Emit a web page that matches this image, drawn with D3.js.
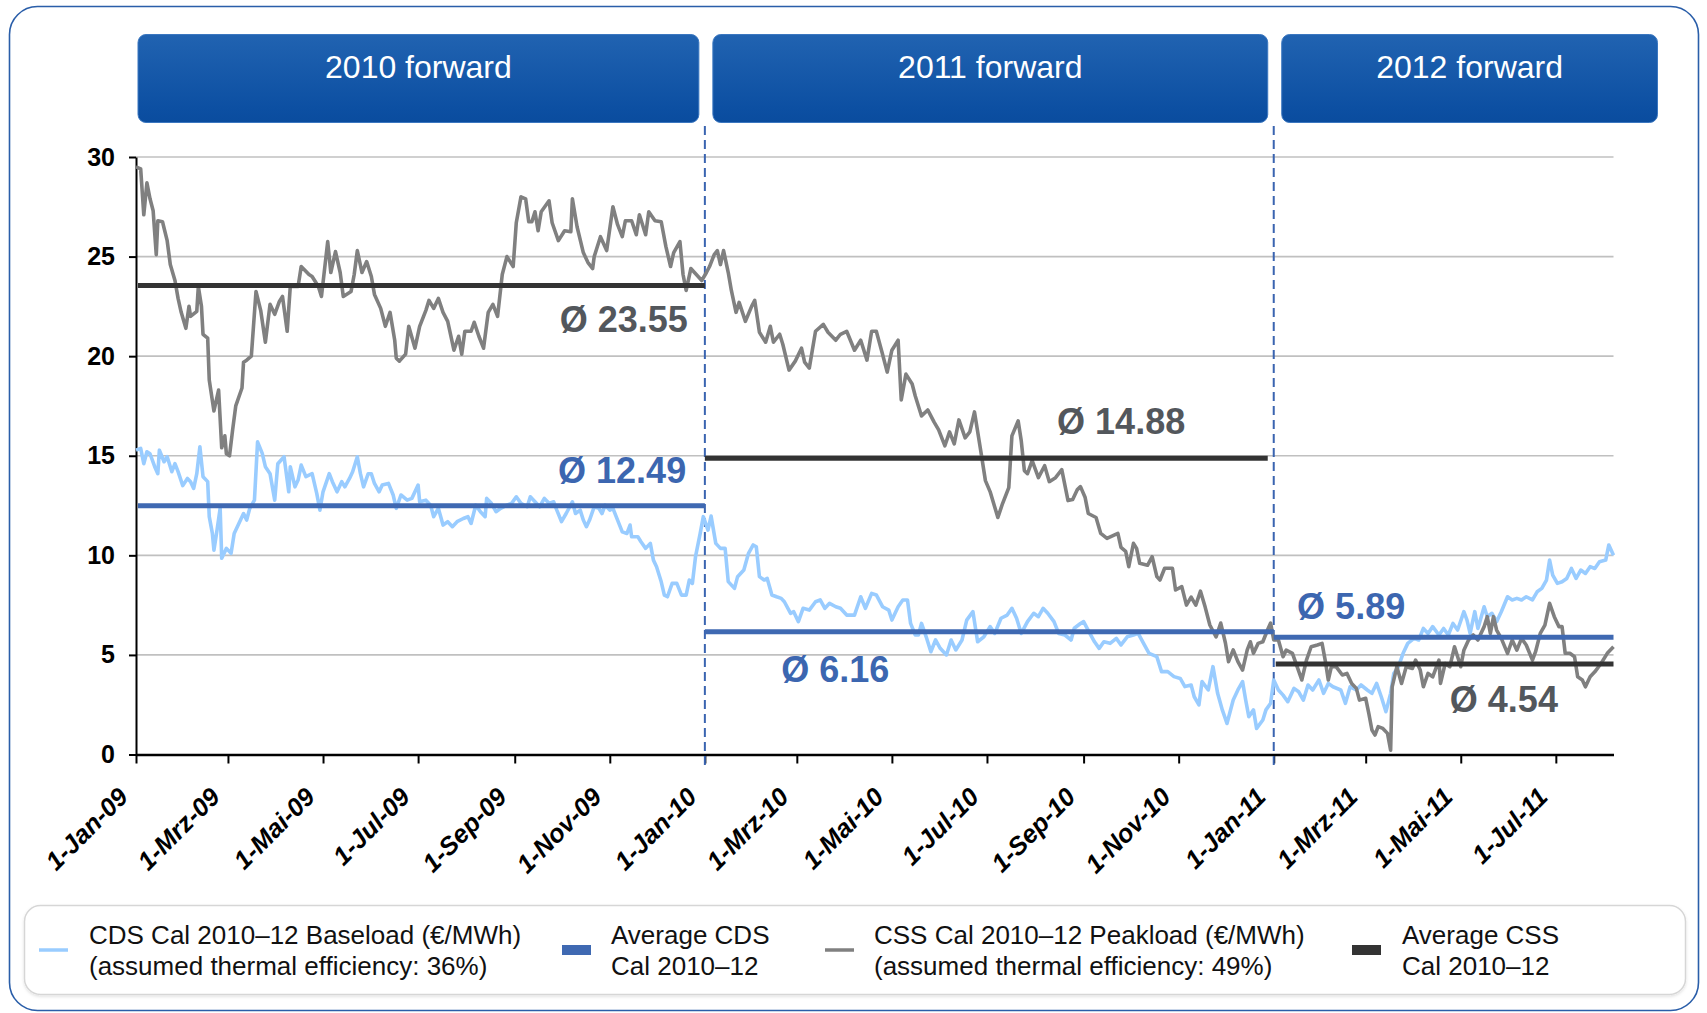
<!DOCTYPE html>
<html>
<head>
<meta charset="utf-8">
<script src="https://cdn.jsdelivr.net/npm/d3@7"></script>
<style>
  html, body { margin: 0; padding: 0; background: #fff; }
  svg { display: block; font-family: "Liberation Sans", Arial, sans-serif; }
</style>
</head>
<body>
<svg id="chart" width="1707" height="1013"></svg>
<script>
"use strict";

// ---- data (day offsets counted from 1 Jan 2009, values in EUR/MWh) ----
var START_DATE = '2009-01-01';
var END_DATE = '2011-08-07';

var segmentStarts = ['2009-01-01', '2010-01-01', '2011-01-01'];
var segmentTitles = ['2010 forward', '2011 forward', '2012 forward'];

var cdsAverages = [12.49, 6.16, 5.89];
var cssAverages = [23.55, 14.88, 4.54];

var monthNames = ['Jan', 'Feb', 'Mrz', 'Apr', 'Mai', 'Jun', 'Jul', 'Aug', 'Sep', 'Okt', 'Nov', 'Dez'];
var yTicks = [0, 5, 10, 15, 20, 25, 30];

var legendLabels = [
    ['CDS Cal 2010\u201312 Baseload (\u20ac/MWh)', '(assumed thermal efficiency: 36%)'],
    ['Average CDS', 'Cal 2010\u201312'],
    ['CSS Cal 2010\u201312 Peakload (\u20ac/MWh)', '(assumed thermal efficiency: 49%)'],
    ['Average CSS', 'Cal 2010\u201312']
];

var css2009 = [[0,29.5],[3,29.4],[5,27.1],[7,28.7],[9,27.9],[11,27.3],[13,25.1],[14,26.8],[17,26.75],[20,25.8],[22,24.6],[25,23.8],[27,22.9],[29,22.2],[32,21.4],[34,22.5],[35,22.0],[39,22.25],[40,23.5],[42,22.5],[43,21.1],[46,20.9],[47,18.8],[50,17.25],[53,18.3],[55,15.4],[57,16.0],[58,15.1],[60,15.0],[62,16.3],[64,17.5],[68,18.4],[69,19.7],[71,19.8],[74,20.0],[77,23.25],[80,22.3],[83,20.7],[86,22.6],[89,22.1],[92,22.75],[94,23.0],[97,21.25],[99,23.5],[104,23.5],[106,24.5],[111,24.1],[113,24.0],[117,23.5],[119,23.0],[123,25.75],[125,24.2],[128,25.25],[131,24.2],[133,23.0],[138,23.25],[140,24.1],[142,25.3],[145,24.2],[148,24.75],[151,24.0],[153,23.1],[157,22.4],[160,21.5],[163,22.2],[166,20.8],[167,19.9],[169,19.75],[173,20.1],[175,21.5],[179,20.4],[182,21.5],[186,22.3],[188,22.8],[191,22.4],[194,22.9],[197,22.2],[200,21.75],[204,20.3],[207,21.0],[209,20.1],[211,21.25],[215,21.25],[217,21.7],[220,21.0],[223,20.4],[226,22.2],[229,22.6],[232,22.0],[235,24.1],[238,25.0],[242,24.5],[244,26.7],[247,28.0],[250,27.9],[252,26.75],[254,26.75],[256,27.25],[258,26.3],[260,27.25],[265,27.8],[267,26.7],[271,25.8],[275,26.3],[279,26.25],[280,27.9],[283,26.5],[287,25.2],[290,24.7],[293,24.4],[294,25.0],[298,26.0],[302,25.3],[306,27.5],[309,26.6],[312,26.0],[314,26.8],[318,26.8],[321,26.1],[323,27.1],[327,26.1],[329,27.25],[333,26.8],[337,26.75],[340,25.5],[343,24.5],[345,25.2],[349,25.75],[351,24.1],[353,23.3],[356,24.4],[363,23.8]];

var css2010 = [[366,24.2],[368,24.5],[371,25.1],[373,25.3],[375,24.6],[377,25.3],[380,24.2],[382,23.3],[385,22.2],[387,22.7],[391,21.75],[395,22.5],[397,22.8],[400,21.2],[404,20.7],[407,21.5],[409,20.7],[413,21.1],[415,20.6],[419,19.3],[423,19.75],[427,20.4],[429,19.7],[432,19.4],[436,21.25],[441,21.6],[444,21.2],[449,20.8],[452,21.1],[456,21.25],[461,20.3],[465,20.8],[469,19.8],[472,21.25],[475,21.25],[479,20.1],[482,19.2],[485,20.3],[489,20.8],[491,17.8],[494,19.1],[498,18.6],[500,18.0],[504,17.0],[508,17.3],[512,16.7],[515,16.3],[519,15.5],[522,16.2],[525,15.6],[528,16.8],[532,15.9],[535,16.2],[538,17.2],[542,15.25],[545,13.75],[548,13.2],[553,11.9],[556,12.6],[560,13.4],[562,16.0],[566,16.75],[568,15.75],[570,14.25],[572,14.1],[575,14.75],[579,13.9],[583,14.5],[586,13.7],[590,13.9],[594,14.3],[598,12.75],[601,12.8],[604,13.3],[606,13.45],[609,12.9],[611,12.1],[616,11.9],[619,11.1],[623,10.85],[630,11.1],[632,10.4],[635,10.2],[637,9.43],[640,10.6],[642,10.35],[644,9.6],[649,9.5],[652,9.93],[655,8.93],[657,8.76],[660,9.35],[665,9.35],[667,8.26],[671,8.43],[674,7.5],[677,7.9],[680,7.5],[683,8.2],[686,7.4],[689,6.5],[693,5.9],[696,6.6],[699,5.6],[701,4.66],[704,5.25],[707,4.66],[710,4.24],[713,5.25],[715,5.66],[717,5.08],[720,5.58],[723,5.66],[726,6.25],[728,6.6]];

var css2011 = [[730,5.75],[733,5.75],[736,4.91],[738,5.24],[742,5.08],[745,4.41],[748,3.74],[751,4.74],[754,5.41],[758,5.5],[761,5.58],[763,4.74],[765,3.74],[767,4.41],[770,4.41],[774,3.99],[777,4.07],[780,3.57],[783,3.32],[785,2.73],[789,2.82],[791,2.06],[793,1.23],[795,0.98],[797,1.4],[800,1.31],[803,1.06],[805,0.22],[806,3.4],[809,4.41],[812,3.57],[815,4.41],[819,4.32],[821,4.74],[824,4.24],[826,3.4],[829,4.07],[832,3.9],[836,4.74],[837,3.57],[840,4.57],[843,4.41],[846,5.41],[850,4.41],[852,5.24],[855,5.75],[858,6.0],[861,5.75],[865,6.42],[867,6.92],[869,6.08],[871,6.92],[873,6.25],[876,5.83],[880,5.08],[883,5.75],[886,5.24],[889,5.83],[892,5.5],[896,4.74],[898,5.16],[901,6.08],[904,6.5],[907,7.59],[910,6.92],[913,6.42],[915,6.42],[917,5.08],[920,5.08],[923,4.91],[925,3.9],[928,3.74],[930,3.4],[933,3.9],[936,4.15],[940,4.57],[944,5.08],[948,5.41]];

var cds2009 = [[0,15.28],[3,15.37],[5,14.6],[7,15.2],[9,15.1],[12,14.45],[14,14.1],[15,15.28],[18,14.7],[20,14.95],[23,14.2],[25,14.6],[27,14.2],[30,13.5],[33,13.86],[35,13.7],[37,13.36],[39,14.1],[41,15.45],[43,13.95],[46,13.7],[47,11.94],[49,11.1],[50,10.26],[52,11.27],[54,12.36],[55,9.85],[58,10.35],[61,10.1],[63,11.1],[66,11.6],[69,12.1],[71,11.77],[73,12.36],[76,12.77],[78,15.7],[81,15.12],[83,14.45],[86,14.1],[89,12.77],[91,14.6],[95,14.95],[98,13.19],[99,14.45],[102,13.44],[104,13.78],[106,14.53],[109,13.95],[113,14.1],[116,13.1],[118,12.27],[120,13.19],[124,14.1],[126,13.7],[129,13.19],[132,13.7],[134,13.44],[137,13.86],[139,14.2],[142,14.95],[144,14.1],[146,13.44],[149,14.1],[151,14.1],[153,13.61],[156,13.19],[158,13.53],[162,13.61],[165,13.03],[167,12.36],[170,13.03],[174,12.77],[177,12.86],[181,13.53],[182,12.69],[186,12.77],[189,12.52],[191,11.94],[194,12.36],[197,11.52],[200,11.69],[203,11.44],[206,11.69],[210,11.85],[213,11.94],[215,11.6],[218,12.52],[221,12.19],[224,11.94],[225,12.86],[228,12.61],[231,12.19],[234,12.36],[238,12.52],[241,12.61],[244,12.94],[247,12.61],[251,12.44],[253,12.94],[256,12.69],[259,12.44],[262,12.86],[265,12.61],[268,12.69],[270,12.27],[273,11.69],[276,12.1],[280,12.69],[282,12.1],[285,12.27],[287,11.77],[289,11.44],[291,11.77],[294,12.44],[297,12.36],[299,12.1],[301,12.52],[304,12.27],[306,12.36],[309,11.77],[312,11.18],[315,11.1],[317,11.52],[318,10.93],[322,10.93],[324,10.68],[327,10.35],[330,10.6],[332,9.76],[334,9.43],[337,8.67],[339,8.0],[341,7.92],[344,8.59],[347,8.59],[350,8.0],[353,8.0],[355,8.76],[357,8.59],[359,9.93]];

var cds2010 = [[362,11.1],[364,11.94],[367,11.27],[369,11.97],[372,10.6],[375,10.35],[378,10.35],[380,8.68],[384,8.34],[386,8.93],[390,9.26],[393,10.1],[396,10.52],[398,10.43],[400,8.93],[403,8.76],[405,8.84],[408,8.01],[411,7.92],[414,7.84],[416,7.67],[420,7.09],[422,7.17],[425,6.67],[428,7.34],[432,7.25],[436,7.67],[439,7.76],[442,7.34],[445,7.59],[449,7.42],[452,7.34],[456,7.0],[461,7.0],[465,7.92],[468,7.34],[472,8.09],[475,8.01],[479,7.42],[483,7.25],[485,6.75],[489,7.42],[492,7.76],[495,7.76],[497,6.58],[500,6.0],[502,6.0],[504,6.58],[507,5.91],[510,5.16],[513,5.75],[516,5.33],[520,5.0],[523,5.75],[526,5.25],[530,5.75],[533,6.75],[537,7.17],[540,5.66],[544,5.91],[548,6.42],[551,6.08],[555,6.84],[559,7.0],[562,7.34],[565,6.84],[568,6.08],[572,6.67],[576,7.09],[579,6.92],[582,7.34],[585,7.09],[589,6.67],[592,6.08],[596,6.0],[600,5.75],[602,6.34],[606,6.58],[608,6.67],[612,6.08],[615,5.66],[618,5.33],[621,5.66],[625,5.58],[629,5.83],[632,5.5],[636,5.91],[640,6.0],[643,6.08],[647,5.5],[650,5.08],[655,4.91],[658,4.16],[662,4.16],[666,3.91],[670,3.82],[673,3.41],[677,3.49],[679,2.9],[682,2.49],[684,3.66],[688,3.24],[691,4.41],[694,3.07],[697,2.24],[700,1.56],[704,2.74],[707,3.24],[710,3.66],[712,2.74],[714,1.9],[717,2.24],[719,1.31],[723,1.73],[725,2.24],[728,2.57]];

var cds2011 = [[730,3.74],[733,3.24],[736,2.98],[739,2.65],[743,3.32],[746,3.15],[749,2.73],[752,3.49],[755,3.24],[759,3.74],[762,3.07],[765,3.57],[768,3.4],[773,3.24],[776,2.57],[779,3.4],[783,3.24],[786,3.49],[790,3.24],[793,3.07],[796,3.57],[799,2.9],[802,2.15],[805,3.07],[807,4.07],[810,4.41],[813,5.08],[816,5.58],[820,5.83],[823,5.75],[826,6.33],[829,6.08],[832,6.42],[836,6.0],[839,6.33],[842,6.0],[845,6.58],[848,6.25],[852,7.17],[854,6.75],[856,6.08],[859,7.17],[861,6.33],[865,7.42],[867,6.92],[870,7.09],[873,6.67],[876,7.17],[880,7.92],[883,7.76],[886,7.84],[889,7.76],[892,7.92],[896,7.76],[899,8.17],[902,8.34],[905,8.76],[907,9.76],[909,9.01],[912,8.59],[915,8.67],[918,8.84],[921,9.34],[924,8.84],[927,9.26],[930,9.09],[933,9.43],[936,9.34],[939,9.68],[943,9.76],[945,10.52],[948,10.01]];

// ---- layout / style ----
var plot = { left: 136, right: 1613.5, top: 157, bottom: 754.5 };

var COLORS = {
    cds: '#99ccff',
    css: '#808080',
    cdsAvg: '#3f69b2',
    cssAvg: '#333333',
    divider: '#3a64b0',
    grid: '#c0c0c0',
    frame: '#2a5ea9',
    cssLabel: '#53575c',
    cdsLabel: '#3c66b0'
};

var parse = d3.timeParse('%Y-%m-%d');
var start = parse(START_DATE);
var end = parse(END_DATE);
var dayToDate = function(d) { return d3.timeDay.offset(start, d); };

var x = d3.scaleTime().domain([start, end]).range([plot.left, plot.right]);
var y = d3.scaleLinear().domain([0, 30]).range([plot.bottom, plot.top]);

var segments = segmentStarts.map(function(s, i) {
    return {
        start: parse(s),
        end: i < segmentStarts.length - 1 ? parse(segmentStarts[i + 1]) : end,
        title: segmentTitles[i],
        cds: cdsAverages[i],
        css: cssAverages[i]
    };
});

var svg = d3.select('#chart');

var defs = svg.append('defs');
var grad = defs.append('linearGradient')
    .attr('id', 'headerGrad')
    .attr('x1', 0).attr('y1', 0).attr('x2', 0).attr('y2', 1);
grad.append('stop').attr('offset', '0%').attr('stop-color', '#2163b1');
grad.append('stop').attr('offset', '85%').attr('stop-color', '#0c4fa2');
grad.append('stop').attr('offset', '100%').attr('stop-color', '#0a4c9e');

var shadow = defs.append('filter').attr('id', 'legendShadow')
    .attr('x', '-2%').attr('y', '-10%').attr('width', '104%').attr('height', '130%');
shadow.append('feDropShadow')
    .attr('dx', 0).attr('dy', 1.5).attr('stdDeviation', 1.5)
    .attr('flood-color', '#000').attr('flood-opacity', 0.12);

// outer frame
svg.append('rect')
    .attr('x', 9.5).attr('y', 6.5)
    .attr('width', 1689).attr('height', 1004)
    .attr('rx', 28).attr('ry', 28)
    .attr('fill', '#fff')
    .attr('stroke', COLORS.frame)
    .attr('stroke-width', 1.6);

// header boxes
var headers = svg.append('g').attr('class', 'headers')
    .selectAll('g')
    .data(segments)
    .enter().append('g');

headers.each(function(d, i) {
    var x0 = x(d.start) + (i === 0 ? 2 : 8);
    var x1 = i < segments.length - 1 ? x(d.end) - 6 : x(d.end) + 44;
    var g = d3.select(this);
    g.append('rect')
        .attr('x', x0).attr('y', 34.5)
        .attr('width', x1 - x0).attr('height', 88)
        .attr('rx', 8).attr('ry', 8)
        .attr('fill', 'url(#headerGrad)')
        .attr('stroke', '#3b77c0')
        .attr('stroke-width', 1);
    g.append('text')
        .attr('x', (x0 + x1) / 2).attr('y', 70)
        .attr('text-anchor', 'middle')
        .attr('dominant-baseline', 'middle')
        .attr('fill', '#fff')
        .style('font-size', '32px')
        .text(d.title);
});

// gridlines
svg.append('g').attr('class', 'grid')
    .selectAll('line')
    .data(yTicks.filter(function(t) { return t > 0; }))
    .enter().append('line')
    .attr('x1', plot.left).attr('x2', plot.right)
    .attr('y1', function(d) { return y(d); })
    .attr('y2', function(d) { return y(d); })
    .attr('stroke', COLORS.grid)
    .attr('stroke-width', 1.6);

// y axis
var yAxis = d3.axisLeft(y).tickValues(yTicks).tickSize(7).tickSizeOuter(0).tickPadding(14);
var yAxisG = svg.append('g')
    .attr('transform', 'translate(' + plot.left + ',0)')
    .call(yAxis);
yAxisG.select('.domain').attr('stroke', '#000').attr('stroke-width', 2);
yAxisG.selectAll('.tick line').attr('stroke', '#000').attr('stroke-width', 2);
yAxisG.selectAll('.tick text')
    .attr('fill', '#000')
    .style('font-size', '25px')
    .style('font-weight', 'bold')
    .style('font-family', '"Liberation Sans", Arial, sans-serif');

// x axis
var fmt = function(d) {
    return d.getDate() + '-' + monthNames[d.getMonth()] + '-' + d3.timeFormat('%y')(d);
};
var xAxis = d3.axisBottom(x)
    .ticks(d3.timeMonth.every(2))
    .tickFormat(fmt)
    .tickSize(9)
    .tickSizeOuter(0);
var xAxisG = svg.append('g')
    .attr('transform', 'translate(0,' + plot.bottom + ')')
    .call(xAxis);
xAxisG.select('.domain').attr('stroke', '#000').attr('stroke-width', 2.5);
xAxisG.selectAll('.tick line').attr('stroke', '#000').attr('stroke-width', 2);
xAxisG.selectAll('.tick text')
    .attr('fill', '#000')
    .attr('text-anchor', 'end')
    .attr('dy', null)
    .attr('y', null)
    .attr('transform', 'translate(-7,44) rotate(-45)')
    .style('font-size', '25.5px')
    .style('font-weight', 'bold')
    .style('font-style', 'italic')
    .style('font-family', '"Liberation Sans", Arial, sans-serif');

// segment dividers
svg.append('g').attr('class', 'dividers')
    .selectAll('line')
    .data(segments.slice(1))
    .enter().append('line')
    .attr('x1', function(d) { return x(d.start); })
    .attr('x2', function(d) { return x(d.start); })
    .attr('y1', 126).attr('y2', 768)
    .attr('stroke', COLORS.divider)
    .attr('stroke-width', 2)
    .attr('stroke-dasharray', '9,5');

// series lines
var line = d3.line()
    .x(function(d) { return x(dayToDate(d[0])); })
    .y(function(d) { return y(d[1]); });

var cdsSeries = cds2009.concat(cds2010, cds2011);
var cssSeries = css2009.concat(css2010, css2011);

svg.append('path')
    .datum(cdsSeries)
    .attr('d', line)
    .attr('fill', 'none')
    .attr('stroke', COLORS.cds)
    .attr('stroke-width', 3.6)
    .attr('stroke-linejoin', 'round');

svg.append('path')
    .datum(cssSeries)
    .attr('d', line)
    .attr('fill', 'none')
    .attr('stroke', COLORS.css)
    .attr('stroke-width', 3.6)
    .attr('stroke-linejoin', 'round');

// average lines
var avgG = svg.append('g').attr('class', 'averages');
segments.forEach(function(s, i) {
    avgG.append('line')
        .attr('x1', x(s.start) + (i === 0 ? 2 : 0)).attr('x2', x(s.end))
        .attr('y1', y(s.cds)).attr('y2', y(s.cds))
        .attr('stroke', COLORS.cdsAvg).attr('stroke-width', 5);
    avgG.append('line')
        .attr('x1', x(s.start) + (i === 1 ? 0 : 2)).attr('x2', x(s.end) - (i === 1 ? 6 : 0))
        .attr('y1', y(s.css)).attr('y2', y(s.css))
        .attr('stroke', COLORS.cssAvg).attr('stroke-width', 5);
});

// average labels (placement: anchor date, vertical offset from line, anchor side)
var labelPlacement = [
    { seg: 0, key: 'css', date: '2009-12-21', dy: 47, anchor: 'end' },
    { seg: 0, key: 'cds', date: '2009-12-20', dy: -23, anchor: 'end' },
    { seg: 1, key: 'css', date: '2010-08-15', dy: -24, anchor: 'start' },
    { seg: 1, key: 'cds', date: '2010-02-19', dy: 50, anchor: 'start' },
    { seg: 2, key: 'cds', date: '2011-01-16', dy: -18, anchor: 'start' },
    { seg: 2, key: 'css', date: '2011-04-24', dy: 48, anchor: 'start' }
];
svg.append('g').attr('class', 'avg-labels')
    .selectAll('text')
    .data(labelPlacement)
    .enter().append('text')
    .attr('x', function(d) { return x(parse(d.date)); })
    .attr('y', function(d) { return y(segments[d.seg][d.key]) + d.dy; })
    .attr('text-anchor', function(d) { return d.anchor; })
    .attr('fill', function(d) { return d.key === 'css' ? COLORS.cssLabel : COLORS.cdsLabel; })
    .style('font-size', '36px')
    .style('font-weight', 'bold')
    .text(function(d) { return '\u00d8 ' + d3.format('.2f')(segments[d.seg][d.key]); });

// legend
svg.append('rect')
    .attr('x', 24.5).attr('y', 905.5)
    .attr('width', 1661).attr('height', 89)
    .attr('rx', 16).attr('ry', 16)
    .attr('fill', '#fff')
    .attr('stroke', '#d6d6d6')
    .attr('stroke-width', 1.5)
    .attr('filter', 'url(#legendShadow)');

var legendItems = [
    { color: COLORS.cds, thick: 3.5, sx: 39, tx: 89 },
    { color: COLORS.cdsAvg, thick: 10, sx: 562, tx: 611 },
    { color: COLORS.css, thick: 3.5, sx: 825, tx: 874 },
    { color: COLORS.cssAvg, thick: 10, sx: 1352, tx: 1402 }
];
var legendG = svg.append('g').attr('class', 'legend')
    .selectAll('g')
    .data(legendItems)
    .enter().append('g');

legendG.append('line')
    .attr('x1', function(d) { return d.sx; })
    .attr('x2', function(d) { return d.sx + 29; })
    .attr('y1', 950).attr('y2', 950)
    .attr('stroke', function(d) { return d.color; })
    .attr('stroke-width', function(d) { return d.thick; });

legendG.each(function(d, i) {
    var t = d3.select(this).append('text')
        .attr('x', d.tx).attr('y', 944)
        .attr('fill', '#111')
        .style('font-size', '26px');
    legendLabels[i].forEach(function(s, j) {
        t.append('tspan').attr('x', d.tx).attr('dy', j === 0 ? 0 : 31).text(s);
    });
});
</script>
</body>
</html>
